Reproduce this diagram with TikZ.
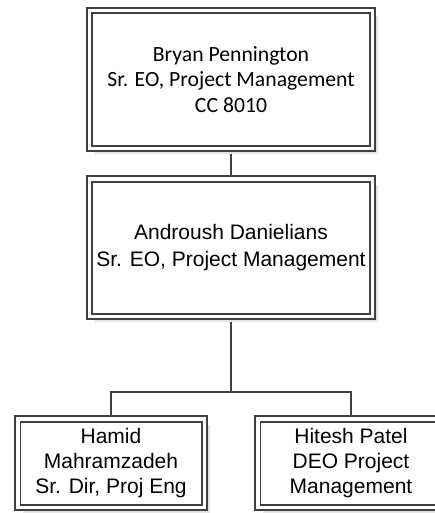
\documentclass[tikz,border=0pt]{standalone}
\usepackage{fontspec}
\setmainfont{Liberation Sans}
\newfontfamily\carlitofont{Carlito}
\usepackage{tikz}
\usetikzlibrary{positioning,shadows,backgrounds}
\definecolor{boxline}{HTML}{404040}
\tikzset{
orgbox/.style={
draw=boxline,
line width=1.8pt,
double=white,
double distance=3.5pt,
fill=white,
outer sep=0pt,
align=center,
drop shadow={fill=black!10,opacity=1,shadow xshift=5.5pt,shadow yshift=-5.5pt},
font=\fontsize{21}{26.5}\selectfont
},
headbox/.style={
orgbox,
minimum width=283pt,
minimum height=138pt,
font=\carlitofont\fontsize{21.7}{25.5}\selectfont
},
midbox/.style={
orgbox,
minimum width=283pt,
minimum height=137.5pt
},
staffbox/.style={
orgbox,
minimum width=186.5pt,
minimum height=88.5pt,
font=\fontsize{21}{25}\selectfont
},
link/.style={
draw=boxline,
line width=2pt
}
}
\begin{document}
\begin{tikzpicture}[x=1pt,y=1pt]
\useasboundingbox (0,0) rectangle (434,-513);
\node[headbox] (bryan) at (231,-79.5) {Bryan Pennington\\Sr. EO, Project Management\\CC 8010};
\node[midbox,below=30.5pt of bryan] (androush) {Androush Danielians\\Sr. EO, Project Management};
\node[staffbox,below=102.5pt of androush,xshift=-120pt] (hamid) {Hamid\\Mahramzadeh\\Sr. Dir, Proj Eng};
\node[staffbox,below=102.5pt of androush,xshift=120pt] (hitesh) {Hitesh Patel\\DEO Project\\Management};
\coordinate[below=75pt of androush] (fork);

\begin{scope}[on background layer]
\draw[link](bryan)--(androush);
\draw[link](androush)--(fork);
\draw[link](hamid.north)|-(fork)-|(hitesh.north);
\end{scope}
\end{tikzpicture}
\end{document}
